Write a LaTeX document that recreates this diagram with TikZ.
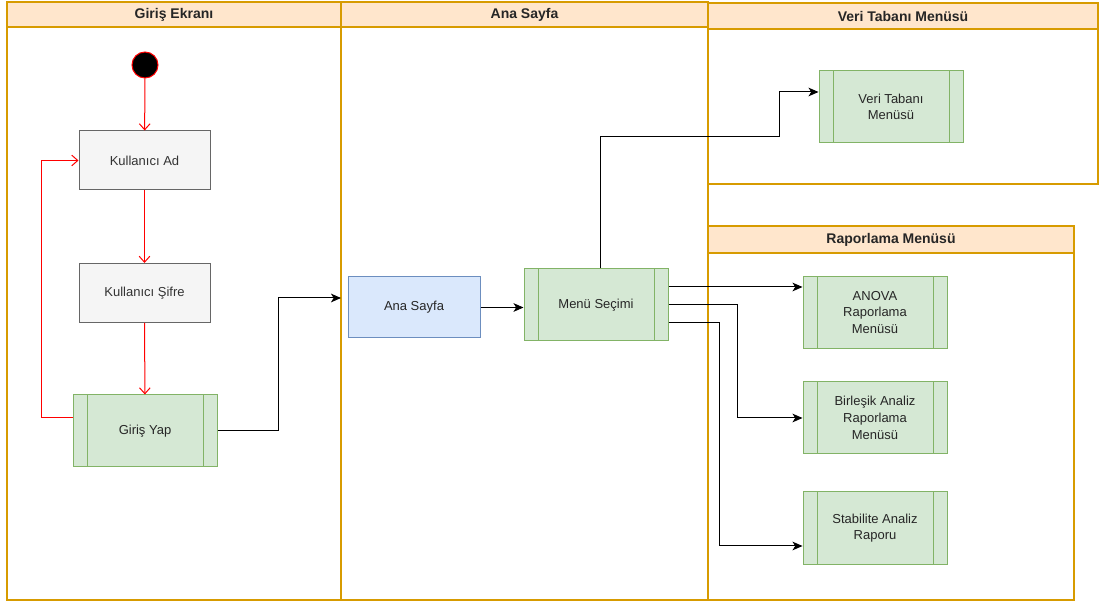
\documentclass[tikz,border=0pt]{standalone}
\usepackage{fontspec}
\setmainfont{Liberation Sans}
\usetikzlibrary{arrows.meta}

\definecolor{laneline}{HTML}{D79B00}
\definecolor{lanefill}{HTML}{FFE6CC}
\definecolor{greyline}{HTML}{666666}
\definecolor{greyfill}{HTML}{F5F5F5}
\definecolor{greytext}{HTML}{333333}
\definecolor{greenline}{HTML}{82B366}
\definecolor{greenfill}{HTML}{D5E8D4}
\definecolor{blueline}{HTML}{6C8EBF}
\definecolor{bluefill}{HTML}{DAE8FC}

\begin{document}
\begin{tikzpicture}[x=0.75pt, y=-0.75pt, font=\fontsize{9.75}{12.5}\selectfont,
    lane/.style={draw=laneline, line width=0.9pt},
    lanehead/.style={draw=laneline, fill=lanefill, line width=0.9pt},
    title/.style={font=\fontsize{10.5}{12}\selectfont\bfseries, text=black!85},
    greybox/.style={draw=greyline, fill=greyfill, text=greytext, line width=0.75pt,
        minimum width=98.25pt, minimum height=44.25pt},
    bluebox/.style={draw=blueline, fill=bluefill, text=black!85, line width=0.75pt,
        minimum width=99pt, minimum height=45.75pt},
    proc/.style={draw=greenline, fill=greenfill, text=black!85, line width=0.75pt, align=center,
        minimum width=108pt, minimum height=54pt,
        path picture={\draw[greenline, line width=0.75pt]
            ([xshift=10.5pt]path picture bounding box.north west) -- ([xshift=10.5pt]path picture bounding box.south west)
            ([xshift=-10.5pt]path picture bounding box.north east) -- ([xshift=-10.5pt]path picture bounding box.south east);}},
    start/.style={circle, draw=red, fill=black, line width=0.75pt, minimum size=19.5pt, inner sep=0pt},
    red/.style={draw=red, line width=0.75pt, -{Straight Barb[length=4.5pt, width=8pt]}},
    flow/.style={draw=black, line width=0.75pt, -{Stealth[length=7.5pt, width=6.5pt, inset=2pt]}}]

    \useasboundingbox (0,0) rectangle (1103,605);

    \draw[lane] (7,2) rectangle (341,600);
    \draw[lanehead] (7,2) rectangle (341,27);
    \node[title] (t1) at (174,15) {Giriş Ekranı};

    \draw[lane] (341,2) rectangle (708,600);
    \draw[lanehead] (341,2) rectangle (708,27);
    \node[title] (t2) at (524.5,15) {Ana Sayfa};

    \draw[lane] (708,3) rectangle (1098,184);
    \draw[lanehead] (708,3) rectangle (1098,29);
    \node[title] (t3) at (903,16.5) {Veri Tabanı Menüsü};

    \draw[lane] (708,226) rectangle (1074,600);
    \draw[lanehead] (708,226) rectangle (1074,253);
    \node[title] (t4) at (891,240) {Raporlama Menüsü};

    \node[start] (s) at (145,65) {};
    \node[greybox] (kad) at (144.5,160.5) {Kullanıcı Ad};
    \node[greybox] (ksifre) at (144.5,293) {Kullanıcı Şifre};
    \node[proc] (giris) at (145,431) {Giriş Yap};
    \node[bluebox] (ana) at (414,307.5) {Ana Sayfa};
    \node[proc] (menu) at (596,305) {Menü Seçimi};
    \node[proc] (veri) at (891,107) {Veri Tabanı\\Menüsü};
    \node[proc] (anova) at (875,312.5) {ANOVA\\Raporlama\\Menüsü};
    \node[proc] (birlesik) at (875,418) {Birleşik Analiz\\Raporlama\\Menüsü};
    \node[proc] (stab) at (875,528) {Stabilite Analiz\\Raporu};
    \coordinate (lanein) at (341,298);

    \draw[red] (s) -- (kad);
    \draw[red] (kad) -- (ksifre);
    \draw[red] (ksifre) -- (giris);
    \draw[red] ([yshift=9.75pt]giris.west) -- ++(-31,0) |- (kad.west);

    \draw[flow] (giris.east) -- (278,431) |- (lanein);
    \draw[flow] (ana.east) -- (ana.east -| menu.west);
    \draw[flow] ([xshift=3pt]menu.north) |- (779,137) |- ([yshift=11.25pt]veri.west);
    \draw[flow] ([yshift=13.5pt]menu.east) -- ([yshift=13.5pt]menu.east -| anova.west);
    \draw[flow] (menu.east) -- ++(69,0) |- (birlesik.west);
    \draw[flow] ([yshift=-13.5pt]menu.east) -- ++(51,0) |- ([yshift=-13.5pt]stab.west);
\end{tikzpicture}
\end{document}
